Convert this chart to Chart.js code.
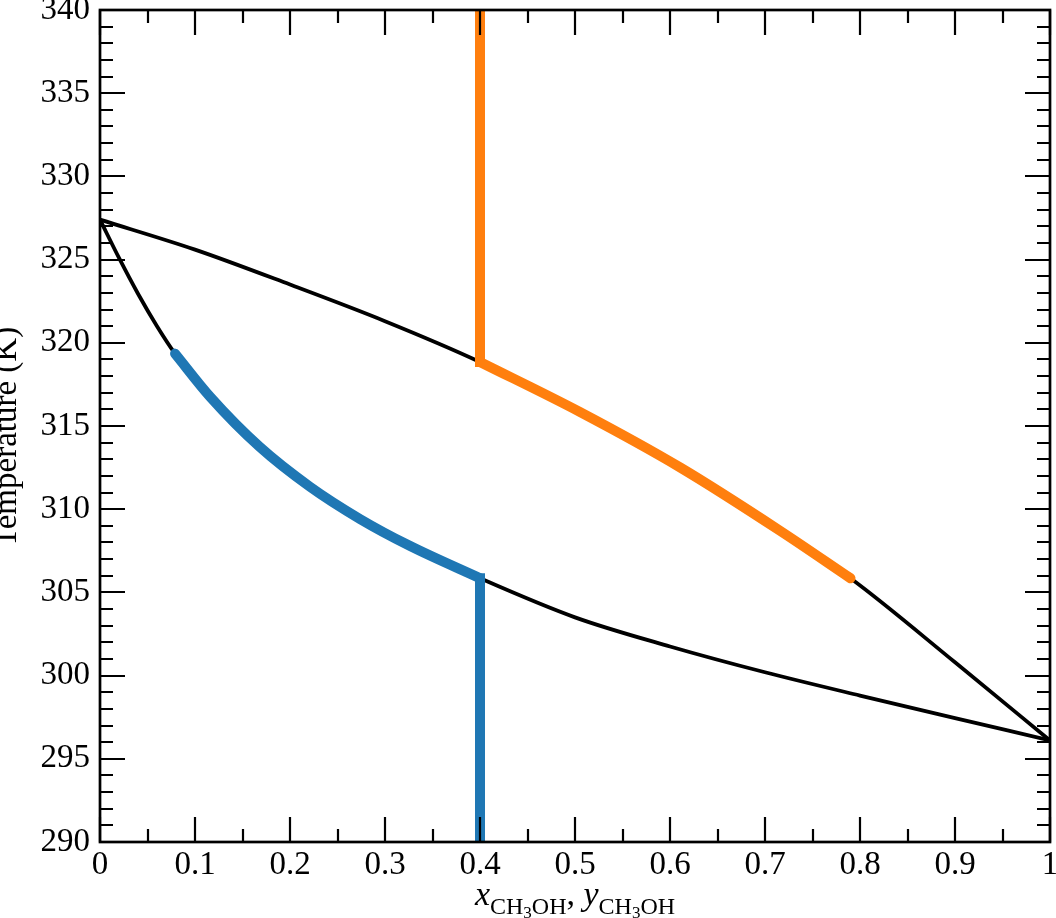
<!DOCTYPE html>
<html>
<head>
<meta charset="utf-8">
<title>T-x-y CH3OH</title>
<script src="https://cdn.jsdelivr.net/npm/chart.js@4.4.1/dist/chart.umd.min.js"></script>
<style>
    html, body { margin: 0; padding: 0; background: #fff; }
    #wrap { width: 1056px; height: 918px; }
</style>
</head>
<body>
<div id="wrap"><canvas id="txyChart" width="1056" height="918"></canvas></div>
<script>
// bubble curve (liquid), mole fraction CH3OH vs T in K
const bubbleX = [0, 0.02, 0.04, 0.06, 0.079, 0.116, 0.168, 0.221, 0.274, 0.326, 0.4, 0.5, 0.6, 0.7, 0.8, 0.9, 1.0];
const bubbleT = [327.4, 325.1, 322.95, 321.0, 319.35, 316.75, 313.75, 311.35, 309.4, 307.8, 305.85, 303.5, 301.75, 300.2, 298.8, 297.45, 296.1];

// dew curve (vapour)
const dewX = [0, 0.1, 0.2, 0.3, 0.4, 0.505, 0.611, 0.716, 0.79, 0.9, 1.0];
const dewT = [327.4, 325.6, 323.5, 321.3, 318.85, 315.85, 312.5, 308.7, 305.85, 300.8, 296.1];

// feed composition and the ends of the highlighted parts
const feedX = 0.4;
const liquidEndX = 0.079;
const vaporEndX = 0.79;
const tMin = 290;
const tMax = 340;

// axis ticks
const xTicks = [0, 0.1, 0.2, 0.3, 0.4, 0.5, 0.6, 0.7, 0.8, 0.9, 1];
const xTickLabels = ["0", "0.1", "0.2", "0.3", "0.4", "0.5", "0.6", "0.7", "0.8", "0.9", "1"];
const yTicks = [290, 295, 300, 305, 310, 315, 320, 325, 330, 335, 340];

const serif = '"Liberation Serif", "Times New Roman", serif';

const toPts = (xs, ts) => xs.map((x, i) => ({ x: x, y: ts[i] }));
const bubblePts = toPts(bubbleX, bubbleT);
const dewPts = toPts(dewX, dewT);

// liquid: heated at the feed, then along the bubble curve
const liquidCurve = bubblePts.filter((p) => p.x >= liquidEndX && p.x <= feedX);
const liquidRise = [
    { x: feedX, y: tMin },
    { x: feedX, y: bubbleT[bubbleX.indexOf(feedX)] },
];
// vapour: cooled at the feed, then along the dew curve
const vaporCurve = dewPts.filter((p) => p.x >= feedX && p.x <= vaporEndX);
const vaporFall = [
    { x: feedX, y: tMax },
    { x: feedX, y: dewT[dewX.indexOf(feedX)] },
];

// inward ticks on all four sides, frame, axis titles
const frameTicks = {
    id: "frameTicks",
    afterDatasetsDraw(chart) {
        const { ctx, chartArea: a, scales } = chart;
        const x = scales.x;
        const y = scales.y;
        ctx.save();
        ctx.strokeStyle = "#000";
        ctx.lineWidth = 2.2;
        ctx.beginPath();
        for (let i = 0; i <= 20; i++) {
            const px = Math.round(x.getPixelForValue(i * 0.05));
            const len = i % 2 === 0 ? 25 : 13;
            ctx.moveTo(px, a.bottom);
            ctx.lineTo(px, a.bottom - len);
            ctx.moveTo(px, a.top);
            ctx.lineTo(px, a.top + len);
        }
        for (let t = tMin; t <= tMax; t++) {
            const py = Math.round(y.getPixelForValue(t));
            const len = t % 5 === 0 ? 25 : 13;
            ctx.moveTo(a.left, py);
            ctx.lineTo(a.left + len, py);
            ctx.moveTo(a.right, py);
            ctx.lineTo(a.right - len, py);
        }
        ctx.stroke();
        ctx.lineWidth = 2.7;
        ctx.strokeRect(a.left, a.top, a.right - a.left, a.bottom - a.top);

        ctx.fillStyle = "#000";
        // y title
        ctx.save();
        ctx.translate(7, 437);
        ctx.rotate(-Math.PI / 2);
        ctx.textAlign = "center";
        ctx.textBaseline = "middle";
        ctx.font = "33px " + serif;
        ctx.fillText("Temperature (K)", 0, 0);
        ctx.restore();

        // x title with subscripts
        const parts = [
            { t: "x", f: "italic 34px " + serif, dy: 0 },
            { t: "CH", f: "24px " + serif, dy: 9 },
            { t: "3", f: "17px " + serif, dy: 13 },
            { t: "OH", f: "24px " + serif, dy: 9 },
            { t: ", ", f: "34px " + serif, dy: 0 },
            { t: "y", f: "italic 34px " + serif, dy: 0 },
            { t: "CH", f: "24px " + serif, dy: 9 },
            { t: "3", f: "17px " + serif, dy: 13 },
            { t: "OH", f: "24px " + serif, dy: 9 },
        ];
        let total = 0;
        parts.forEach((p) => {
            ctx.font = p.f;
            p.w = ctx.measureText(p.t).width;
            total += p.w;
        });
        let cx = (a.left + a.right) / 2 - total / 2;
        const base = 905;
        ctx.textAlign = "left";
        ctx.textBaseline = "alphabetic";
        parts.forEach((p) => {
            ctx.font = p.f;
            ctx.fillText(p.t, cx, base + p.dy);
            cx += p.w;
        });
        ctx.restore();
    },
};

const ctx = document.getElementById("txyChart");

const colored = (label, data, color, smooth) => ({
    label: label,
    data: data,
    borderColor: color,
    borderWidth: 10,
    borderCapStyle: smooth ? "round" : "square",
    cubicInterpolationMode: smooth ? "monotone" : "default",
    tension: 0,
    order: 0,
});

new Chart(ctx, {
    type: "line",
    data: {
        datasets: [
            colored("liquid", liquidCurve, "#1f77b4", true),
            colored("liquid heat", liquidRise, "#1f77b4", false),
            colored("vapour", vaporCurve, "#ff7f0e", true),
            colored("vapour cool", vaporFall, "#ff7f0e", false),
            {
                label: "bubble",
                data: bubblePts,
                borderColor: "#000",
                borderWidth: 3.8,
                cubicInterpolationMode: "monotone",
                order: 1,
            },
            {
                label: "dew",
                data: dewPts,
                borderColor: "#000",
                borderWidth: 3.8,
                cubicInterpolationMode: "monotone",
                order: 1,
            },
        ],
    },
    options: {
        responsive: false,
        animation: false,
        devicePixelRatio: 1,
        parsing: false,
        elements: { point: { radius: 0 } },
        layout: { padding: { top: 10, right: 6, left: 0, bottom: 0 } },
        plugins: {
            legend: { display: false },
            tooltip: { enabled: false },
        },
        scales: {
            x: {
                type: "linear",
                min: 0,
                max: 1,
                grid: { display: false, drawTicks: false },
                border: { display: false },
                afterBuildTicks: (s) => {
                    s.ticks = xTicks.map((v) => ({ value: v }));
                },
                afterFit: (s) => {
                    s.height = 76;
                    s.paddingLeft = 0;
                    s.paddingRight = 0;
                },
                ticks: {
                    autoSkip: false,
                    maxRotation: 0,
                    padding: 4,
                    color: "#000",
                    font: { family: serif, size: 33 },
                    callback: (v, i) => xTickLabels[i],
                },
            },
            y: {
                type: "linear",
                min: tMin,
                max: tMax,
                grid: { display: false, drawTicks: false },
                border: { display: false },
                afterBuildTicks: (s) => {
                    s.ticks = yTicks.map((v) => ({ value: v }));
                },
                afterFit: (s) => {
                    s.width = 100;
                    s.paddingTop = 0;
                    s.paddingBottom = 0;
                },
                ticks: {
                    autoSkip: false,
                    padding: 10,
                    color: "#000",
                    font: { family: serif, size: 33 },
                    callback: (v) => String(v),
                },
            },
        },
    },
    plugins: [frameTicks],
});
</script>
</body>
</html>
